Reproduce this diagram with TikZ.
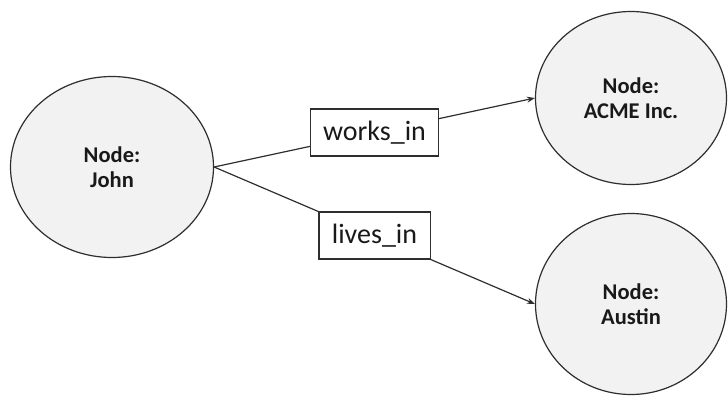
\documentclass[tikz,border=0pt]{standalone}
\usepackage{fontspec}
\setmainfont{Carlito}
\usetikzlibrary{shapes.geometric,arrows.meta}
\definecolor{nodefill}{HTML}{F2F2F2}
\definecolor{edgecol}{HTML}{2E2E2E}
\tikzset{
  entity/.style={ellipse, draw=edgecol, line width=1.2pt, fill=nodefill, inner sep=0pt,
    align=center, font=\fontsize{22.5}{25}\selectfont\bfseries, text=black!90},
  relation/.style={draw=edgecol, line width=1.2pt, fill=white, minimum height=47pt,
    inner xsep=13pt, inner ysep=0pt, font=\fontsize{28}{30}\selectfont, text=black!90},
  link/.style={draw=edgecol, line width=1.2pt, -{Stealth[length=8pt,width=6pt]}}
}
\begin{document}
\begin{tikzpicture}[x=1pt,y=-1pt]
  \useasboundingbox (0,0) rectangle (728,399);
  % people, companies and places
  \node[entity, minimum width=203pt, minimum height=181pt] (john) at (112,167) {Node:\\John};
  \node[entity, minimum width=191pt, minimum height=173pt] (acme) at (631,98) {Node:\\ACME Inc.};
  \node[entity, minimum width=191pt, minimum height=181pt] (austin) at (631,304) {Node:\\Austin};
  % relationships
  \draw[link] (john.east) -- node[relation] (worksin) {works\_in} (acme.west);
  \draw[link] (john.east) -- node[relation] (livesin) {lives\_in} (austin.west);
\end{tikzpicture}
\end{document}
